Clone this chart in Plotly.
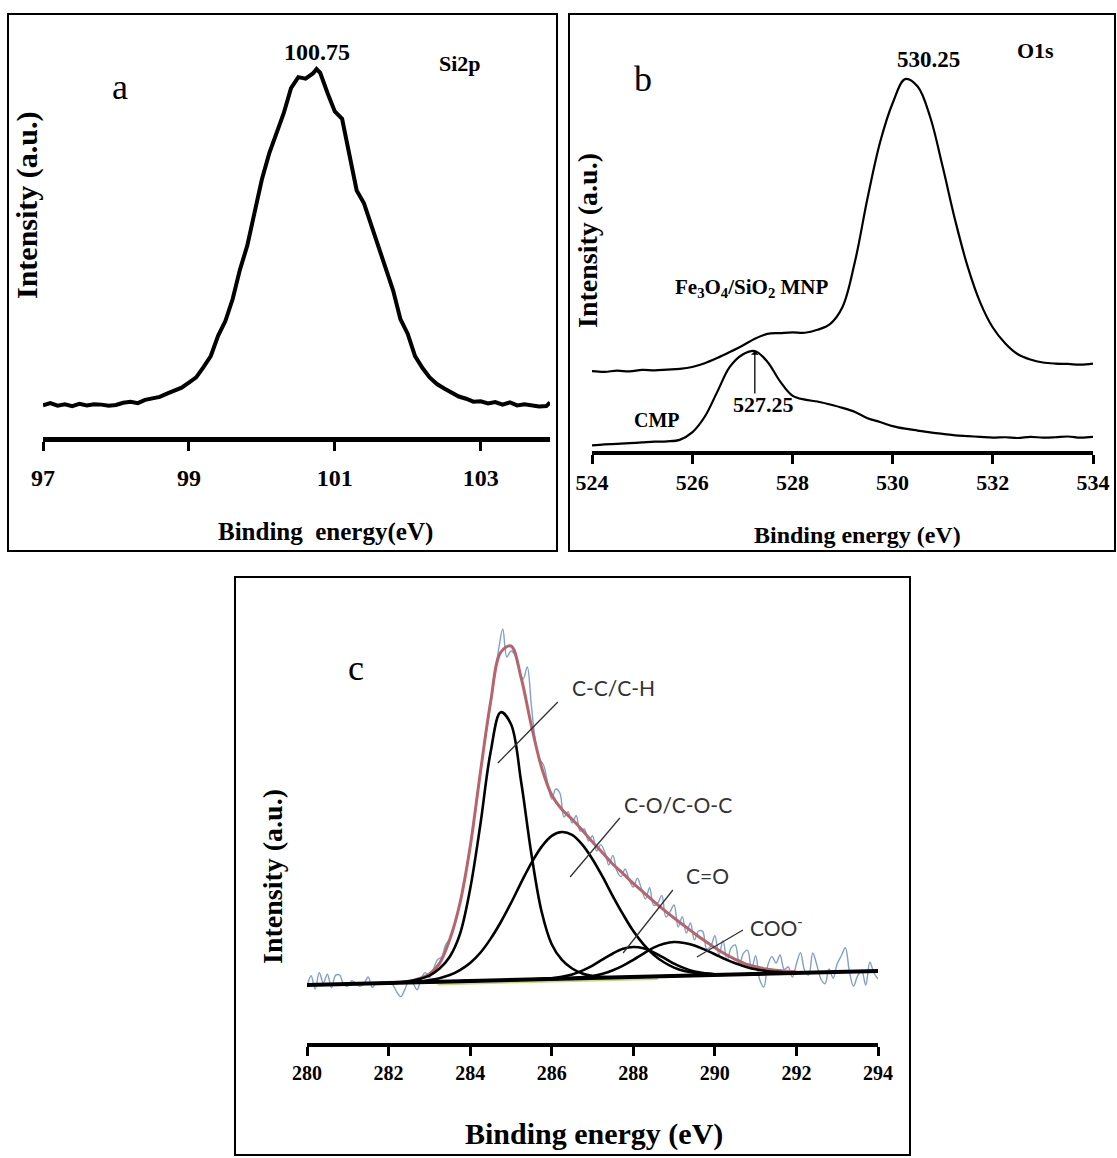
import plotly.graph_objects as go

W, H = 1117, 1158
SERIF = "Liberation Serif, Times New Roman, serif"
SANS = "Lato, Open Sans, sans-serif"

# ---------------- (a) Si2p ----------------
si_energy = [97.0, 97.1, 97.2, 97.3, 97.4, 97.5, 97.6, 97.7, 97.8, 97.9,
             98.0, 98.1, 98.2, 98.3, 98.4, 98.5, 98.6, 98.7, 98.8, 98.9,
             99.0, 99.1, 99.2, 99.3, 99.4, 99.5, 99.6, 99.7, 99.8, 99.9,
             100.0, 100.1, 100.2, 100.3, 100.4, 100.5, 100.6, 100.7, 100.75, 100.8, 100.9,
             101.0, 101.1, 101.2, 101.3, 101.4, 101.5, 101.6, 101.7, 101.8, 101.9,
             102.0, 102.1, 102.2, 102.3, 102.4, 102.5, 102.6, 102.7, 102.8, 102.9,
             103.0, 103.1, 103.2, 103.3, 103.4, 103.5, 103.6, 103.7, 103.8, 103.9, 103.95]
si_intensity = [8.6, 9.2, 8.5, 8.9, 8.4, 9.0, 8.6, 8.9, 8.8, 8.5,
                8.7, 9.3, 9.6, 9.2, 10.1, 10.6, 10.9, 11.8, 12.5, 13.4,
                14.8, 16.2, 19.0, 22.0, 27.5, 31.5, 37.5, 45.5, 52.0, 60.5,
                70.0, 77.0, 82.5, 88.0, 94.8, 97.8, 97.4, 98.8, 100.0, 99.0, 93.5,
                88.5, 86.5, 76.5, 67.0, 63.5, 57.5, 51.5, 45.5, 39.8, 32.0,
                28.0, 22.0, 18.8, 16.2, 14.4, 13.2, 12.2, 11.0, 10.4, 9.6,
                9.7, 9.1, 9.5, 8.8, 9.4, 8.6, 8.9, 8.7, 8.3, 8.4, 9.4]
si_ticks = [97, 99, 101, 103]

# ---------------- (b) O1s ----------------
o_energy = [524.0, 524.25, 524.5, 524.75, 525.0, 525.25, 525.5, 525.75,
            526.0, 526.25, 526.5, 526.75, 527.0, 527.25, 527.5, 527.75,
            528.0, 528.25, 528.5, 528.75, 529.0, 529.25, 529.5, 529.75,
            530.0, 530.25, 530.5, 530.75, 531.0, 531.25, 531.5, 531.75,
            532.0, 532.25, 532.5, 532.75, 533.0, 533.25, 533.5, 533.75, 534.0]
o_mnp = [21.5, 21.3, 21.6, 21.4, 21.8, 21.7, 21.9, 22.1,
         22.6, 23.6, 25.0, 26.6, 28.3, 30.2, 31.5, 31.7,
         31.9, 31.8, 32.6, 34.1, 38.7, 51.0, 68.0, 83.0,
         93.5, 100.0, 98.0, 89.8, 76.4, 62.0, 49.5, 39.9,
         33.2, 28.9, 26.0, 24.6, 23.8, 23.5, 23.4, 23.2, 23.5]
o_cmp = [1.5, 1.8, 1.9, 2.1, 2.3, 2.5, 2.6, 3.0,
         5.0, 9.2, 15.9, 22.6, 25.9, 26.9, 24.0, 18.8,
         14.9, 13.8, 13.3, 12.5, 11.6, 10.5, 8.8, 7.8,
         6.7, 6.0, 5.5, 5.0, 4.6, 4.2, 4.0, 3.8,
         3.6, 3.7, 3.5, 3.8, 3.6, 3.7, 3.9, 3.6, 3.8]
o_ticks = [524, 526, 528, 530, 532, 534]

# ---------------- (c) C1s ----------------
c_raw_energy = [round(280.0 + 0.1 * i, 1) for i in range(141)]
c_raw = [14.0, 16.8, 13.5, 17.6, 15.0, 17.2, 13.8, 16.9, 17.0, 14.6,
         14.2, 15.6, 14.8, 14.2, 14.9, 16.5, 13.9, 15.0, 15.2, 14.9,
         15.3, 14.6, 12.8, 11.6, 13.4, 15.6, 14.9, 13.3, 16.2, 17.6,
         16.4, 18.5, 20.8, 21.5, 24.6, 26.0, 28.5, 33.0, 37.5, 42.6,
         49.3, 56.5, 64.0, 71.4, 78.0, 84.5, 91.5, 98.5, 103.5, 96.5,
         98.0, 97.0, 93.5, 91.0, 94.0, 84.5, 75.5, 71.0, 69.5, 65.0,
         61.0, 63.5, 62.5, 56.5, 57.8, 55.0, 56.8, 53.0, 53.5, 50.5,
         51.8, 48.0, 49.6, 47.8, 44.5, 46.9, 43.0, 41.6, 43.5, 40.8,
         39.0, 41.2, 38.6, 36.0, 38.8, 34.4, 35.0, 36.9, 31.5, 32.8,
         34.5, 29.0, 31.6, 27.5, 30.0, 25.8, 28.0, 27.9, 23.5, 24.2,
         26.8, 22.0, 25.6, 20.6, 23.8, 24.5, 19.6, 22.4, 23.2, 18.5,
         21.8, 15.8, 14.0, 19.5, 21.6, 20.0, 22.0, 18.4, 19.0, 16.5,
         19.8, 22.6, 18.2, 17.0, 22.5, 19.5, 16.0, 14.8, 18.5, 16.2,
         19.8, 21.8, 23.8, 17.8, 14.2, 16.8, 18.0, 14.5, 20.2, 17.5,
         16.0]

c_fit_energy = [282.0, 282.25, 282.5, 282.75, 283.0, 283.25, 283.5, 283.75,
                284.0, 284.25, 284.5, 284.75, 285.0, 285.25, 285.5, 285.75,
                286.0, 286.25, 286.5, 286.75, 287.0, 287.25, 287.5, 287.75,
                288.0, 288.25, 288.5, 288.75, 289.0, 289.25, 289.5, 289.75,
                290.0, 290.25, 290.5, 290.75, 291.0, 291.25, 291.5, 291.75, 292.0]
c_background = [15.0, 15.06, 15.13, 15.19, 15.25, 15.31, 15.38, 15.44,
                15.5, 15.56, 15.63, 15.69, 15.75, 15.81, 15.88, 15.94,
                16.0, 16.06, 16.13, 16.19, 16.25, 16.31, 16.38, 16.44,
                16.5, 16.56, 16.63, 16.69, 16.75, 16.81, 16.88, 16.94,
                17.0, 17.06, 17.13, 17.19, 17.25, 17.31, 17.38, 17.44, 17.5]
# component heights above the background
c_cc = [0.0, 0.1, 0.3, 0.8, 1.6, 3.3, 6.2, 11.8,
        23.0, 39.0, 57.0, 67.0, 64.0, 49.5, 31.5, 17.0,
        8.7, 4.7, 2.5, 1.2, 0.5, 0.2, 0.0, 0.0,
        0.0, 0.0, 0.0, 0.0, 0.0, 0.0, 0.0, 0.0,
        0.0, 0.0, 0.0, 0.0, 0.0, 0.0, 0.0, 0.0, 0.0]
c_co = [0.0, 0.0, 0.1, 0.2, 0.5, 0.9, 1.6, 2.8,
        4.5, 7.0, 10.4, 14.5, 19.2, 24.3, 29.1, 33.1,
        35.8, 36.7, 35.9, 33.4, 29.7, 25.2, 20.3, 15.7,
        11.5, 8.1, 5.4, 3.5, 2.1, 1.2, 0.7, 0.4,
        0.2, 0.1, 0.0, 0.0, 0.0, 0.0, 0.0, 0.0, 0.0]
c_carbonyl = [0.0, 0.0, 0.0, 0.0, 0.0, 0.0, 0.0, 0.0,
              0.0, 0.0, 0.0, 0.0, 0.0, 0.0, 0.0, 0.1,
              0.2, 0.5, 1.0, 1.9, 3.1, 4.6, 6.0, 7.1,
              7.5, 7.1, 6.0, 4.6, 3.1, 1.9, 1.0, 0.5,
              0.2, 0.1, 0.0, 0.0, 0.0, 0.0, 0.0, 0.0, 0.0]
c_coo = [0.0, 0.0, 0.0, 0.0, 0.0, 0.0, 0.0, 0.0,
         0.0, 0.0, 0.0, 0.0, 0.0, 0.0, 0.0, 0.0,
         0.0, 0.0, 0.1, 0.3, 0.5, 1.0, 1.8, 2.9,
         4.3, 5.8, 7.2, 8.1, 8.5, 8.2, 7.5, 6.4,
         5.2, 3.9, 2.8, 1.9, 1.2, 0.7, 0.4, 0.2, 0.1]
c_envelope = [0.0, 0.1, 0.3, 0.9, 2.0, 4.6, 10.5, 19.5,
              33.5, 52.0, 69.5, 82.0, 83.5, 75.5, 63.5, 53.0,
              46.0, 42.3, 39.8, 37.0, 34.0, 31.2, 28.3, 25.9,
              23.4, 21.1, 18.8, 16.6, 14.5, 12.5, 10.5, 8.6,
              6.8, 5.2, 3.8, 2.6, 1.8, 1.2, 0.8, 0.5, 0.3]
c_baseline_energy = [280.0, 294.0]
c_baseline = [14.5, 18.0]
c_shirley_energy = [283.2, 284.5, 286.0, 287.5, 288.6]
c_shirley = [14.9, 15.25, 15.6, 15.98, 16.25]
c_ticks = [280, 282, 284, 286, 288, 290, 292, 294]


def px_x(p):
    return p / W


def px_y(p):
    return 1 - p / H


def above(base, comp):
    return [b + c for b, c in zip(base, comp)]


fig = go.Figure()


def line(x, y, ax, color, width, shape="linear"):
    fig.add_trace(go.Scatter(
        x=x, y=y, mode="lines", xaxis="x" + ax, yaxis="y" + ax,
        line=dict(color=color, width=width, shape=shape),
        showlegend=False, hoverinfo="skip"))


# panel a
line(si_energy, si_intensity, "", "black", 4)
# panel b
line(o_energy, o_mnp, "2", "black", 2.2, "spline")
line(o_energy, o_cmp, "2", "black", 2.2, "spline")
# panel c
line(c_shirley_energy, c_shirley, "3", "#c3d97a", 4, "spline")
line(c_raw_energy, c_raw, "3", "#7f9fcf", 1.4, "spline")
line(c_fit_energy, above(c_background, c_envelope), "3", "#b6666a", 3, "spline")
for comp in (c_cc, c_co, c_carbonyl, c_coo):
    line(c_fit_energy, above(c_background, comp), "3", "black", 2.6, "spline")
line(c_baseline_energy, c_baseline, "3", "black", 4)


def xaxis(dom, rng, ticks, size, lw, standoff, anchor):
    return dict(domain=[px_x(dom[0]), px_x(dom[1])], range=rng, anchor=anchor,
                tickmode="array", tickvals=ticks, ticks="outside", ticklen=9,
                tickwidth=3, tickcolor="black", showline=True, linewidth=lw,
                linecolor="black", showgrid=False, zeroline=False,
                automargin=False, ticklabelstandoff=standoff,
                tickfont=dict(family=SERIF, size=size, color="black", weight="bold"))


def yaxis(bottom, top, ymax, anchor):
    return dict(domain=[px_y(bottom), px_y(top)], range=[0, ymax], anchor=anchor,
                visible=False, showgrid=False, zeroline=False, automargin=False)


fig.update_layout(
    width=W, height=H, margin=dict(l=0, r=0, t=0, b=0, pad=0, autoexpand=False),
    paper_bgcolor="white", plot_bgcolor="rgba(0,0,0,0)",
    xaxis=xaxis((43, 550), [97, 103.95], si_ticks, 24, 5, 6, "y"),
    yaxis=yaxis(437, 40, 107.9, "x"),
    xaxis2=xaxis((592, 1093), [524, 534], o_ticks, 22, 4, 0, "y2"),
    yaxis2=yaxis(451, 30, 113.2, "x2"),
    xaxis3=xaxis((307, 878), [280, 294], c_ticks, 20, 4, 0, "y3"),
    yaxis3=yaxis(1043, 600, 110.75, "x3"),
)

# panel frames
for x0, y0, x1, y1 in [(8, 14, 557, 551), (569, 14, 1115, 551), (235, 577, 910, 1155)]:
    fig.add_shape(type="rect", xref="paper", yref="paper",
                  x0=px_x(x0), x1=px_x(x1), y0=px_y(y1), y1=px_y(y0),
                  line=dict(color="black", width=2))


def text(t, x, y, xref, yref, size, family=SERIF, bold=True, color="black", angle=0):
    fig.add_annotation(text=t, x=x, y=y, xref=xref, yref=yref, showarrow=False,
                       xanchor="center", yanchor="middle", textangle=angle,
                       font=dict(family=family, size=size, color=color,
                                 weight="bold" if bold else "normal"))


# panel a texts
text("a", 98.05, 95.1, "x", "y", 36, bold=False)
text("100.75", 100.75, 104.6, "x", "y", 24)
text("Si2p", 102.71, 101.6, "x", "y", 22)
text("Intensity (a.u.)", px_x(27), px_y(205), "paper", "paper", 30, angle=-90)
text("Binding  energy(eV)", px_x(325), px_y(532), "paper", "paper", 25)

# panel b texts
text("b", 525.02, 100.0, "x2", "y2", 36, bold=False)
text("530.25", 530.71, 105.4, "x2", "y2", 23)
text("O1s", 532.86, 107.8, "x2", "y2", 22)
text("Fe<sub>3</sub>O<sub>4</sub>/SiO<sub>2</sub> MNP", 527.19, 43.8, "x2", "y2", 21)
text("CMP", 525.3, 8.3, "x2", "y2", 20)
text("527.25", 527.43, 12.4, "x2", "y2", 22)
text("Intensity (a.u.)", px_x(587), px_y(241), "paper", "paper", 28, angle=-90)
text("Binding energy (eV)", px_x(857), px_y(535), "paper", "paper", 24)
fig.add_annotation(x=527.25, y=26.9, xref="x2", yref="y2", text="", showarrow=True,
                   ax=0, ay=44, arrowhead=1, arrowsize=1, arrowwidth=1.3,
                   arrowcolor="black", standoff=0)

# panel c texts
text("c", 281.2, 93.75, "x3", "y3", 36, bold=False)
text("Intensity (a.u.)", px_x(272), px_y(877), "paper", "paper", 28, angle=-90)
text("Binding energy (eV)", px_x(594), px_y(1134), "paper", "paper", 30)
text("C-C/C-H", 287.52, 89.0, "x3", "y3", 21, family=SANS, bold=False, color="#333333")
text("C-O/C-O-C", 289.09, 59.75, "x3", "y3", 21, family=SANS, bold=False, color="#333333")
text("C=O", 289.83, 42.0, "x3", "y3", 21, family=SANS, bold=False, color="#333333")
text("COO<sup>-</sup>", 291.5, 29.25, "x3", "y3", 21, family=SANS, bold=False, color="#333333")

# leader lines from labels to peaks
leaders = [((286.15, 85.25), (284.68, 70.0)),
           ((287.67, 56.25), (286.45, 41.5)),
           ((288.97, 38.25), (287.75, 22.5)),
           ((290.69, 28.25), (289.56, 21.5))]
for (x0, y0), (x1, y1) in leaders:
    fig.add_shape(type="line", xref="x3", yref="y3", x0=x0, y0=y0, x1=x1, y1=y1,
                  line=dict(color="#333333", width=1.3))

fig.write_html("out.html")
